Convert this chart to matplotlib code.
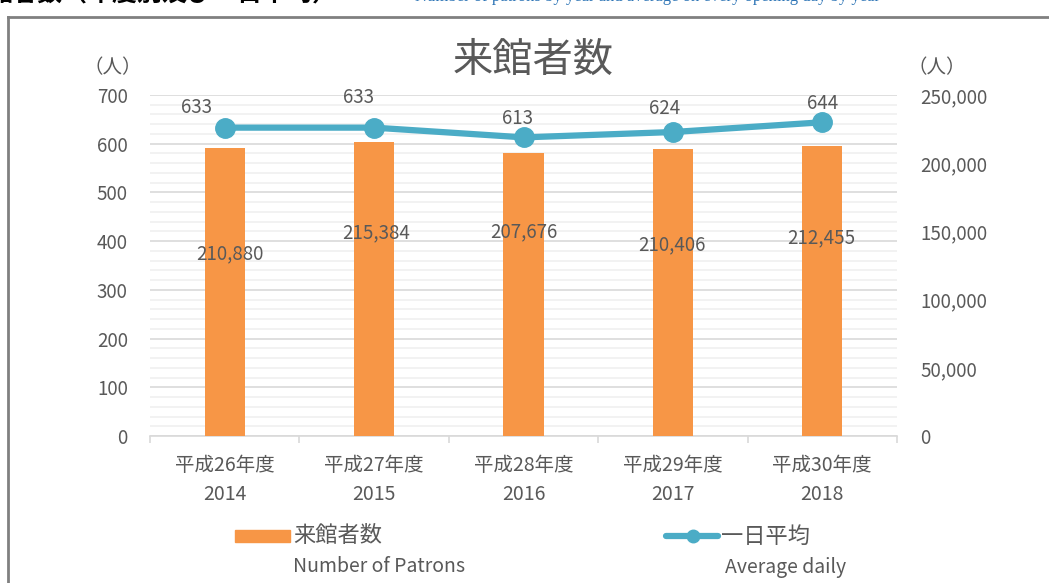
import matplotlib
matplotlib.use("Agg")
import matplotlib.pyplot as plt
from matplotlib.patches import Rectangle
from matplotlib.lines import Line2D
from matplotlib.ticker import MultipleLocator, FuncFormatter

plt.rcParams['font.family'] = ['Noto Sans CJK JP', 'DejaVu Sans']

# ---- data ----
categories = ["平成26年度\n2014", "平成27年度\n2015", "平成28年度\n2016",
              "平成29年度\n2017", "平成30年度\n2018"]
patrons = [210880, 215384, 207676, 210406, 212455]
daily_avg = [633, 633, 613, 624, 644]
title = "来館者数"
bar_label = "来館者数"
bar_label_en = "Number of Patrons"
line_label = "一日平均"
line_label_en = "Average daily"
unit = "（人）"

# label offsets in pixels (dx, dy) relative to the mark
line_lbl_off = [(-28, 20), (-16, 30), (-6, 19), (-8, 24), (0, 19)]
bar_lbl_off = [(5, -105), (2, -91), (0, -79), (-1, -96), (-1, -92)]

ORANGE = "#F79646"
TEAL = "#4BACC6"
GREY = "#595959"

W, H = 1049, 583
fig = plt.figure(figsize=(W / 100, H / 100), dpi=100)

def fx(px):
    return px / W

def fy(py):
    return 1 - py / H

rect = [fx(150), fy(436), fx(897) - fx(150), fy(95) - fy(436)]
x = list(range(len(categories)))

# background axes: left scale, gridlines, left tick labels, category labels
axg = fig.add_axes(rect, zorder=1)
axg.set_xlim(-0.5, len(categories) - 0.5)
axg.set_ylim(0, 700)
axg.yaxis.set_major_locator(MultipleLocator(100))
axg.yaxis.set_minor_locator(MultipleLocator(20))
axg.grid(which='major', axis='y', color='#D9D9D9', lw=1.2)
axg.grid(which='minor', axis='y', color='#F0F0F0', lw=1.2)
axg.set_axisbelow(True)
for s in ('top', 'left', 'right'):
    axg.spines[s].set_visible(False)
axg.spines['bottom'].set_color('#D9D9D9')
axg.spines['bottom'].set_linewidth(1.2)
axg.set_xticks(x)
axg.set_xticklabels(categories, fontsize=14, color=GREY, linespacing=1.45)
axg.set_xticks([i - 0.5 for i in range(len(categories) + 1)], minor=True)
axg.tick_params(axis='x', which='major', length=0, pad=14)
axg.tick_params(axis='x', which='minor', length=5, color='#D9D9D9', width=1.2)
axg.tick_params(axis='y', which='both', length=0, pad=16, labelsize=13.5, labelcolor=GREY)

# bar axes: right scale
axb = fig.add_axes(rect, zorder=2, sharex=axg)
axb.patch.set_visible(False)
axb.set_ylim(0, 250000)
axb.yaxis.tick_right()
axb.yaxis.set_major_locator(MultipleLocator(50000))
axb.yaxis.set_major_formatter(FuncFormatter(lambda v, p: f"{int(v):,}"))
axb.tick_params(axis='y', which='both', length=0, pad=17, labelsize=13.5, labelcolor=GREY)
axb.tick_params(axis='x', which='both', bottom=False, labelbottom=False)
for s in axb.spines.values():
    s.set_visible(False)
axb.bar(x, patrons, width=0.27, color=ORANGE)
for i, (v, off) in enumerate(zip(patrons, bar_lbl_off)):
    axb.annotate(f"{v:,}", xy=(i, v), xytext=off, textcoords='offset pixels',
                 ha='center', va='center', fontsize=13.5, color=GREY)

# line axes: left scale
axl = fig.add_axes(rect, zorder=3, sharex=axg)
axl.patch.set_visible(False)
axl.set_ylim(0, 700)
axl.axis('off')
axl.plot(x, daily_avg, color=TEAL, lw=4.5, marker='o', ms=14,
         solid_capstyle='round', clip_on=False)
for i, (v, off) in enumerate(zip(daily_avg, line_lbl_off)):
    axl.annotate(f"{v}", xy=(i, v), xytext=off, textcoords='offset pixels',
                 ha='center', va='center', fontsize=13.5, color=GREY)

# title and units
fig.text(fx(533), fy(60), title, ha='center', va='center', fontsize=29, color=GREY)
fig.text(fx(113), fy(68), unit, ha='center', va='center', fontsize=14, color=GREY)
fig.text(fx(937), fy(68), unit, ha='center', va='center', fontsize=14, color=GREY)

# legend (manual)
fig.patches.append(Rectangle((fx(235), fy(542)), fx(290) - fx(235), fy(530) - fy(542),
                             transform=fig.transFigure, color=ORANGE))
fig.lines.append(Line2D([fx(666), fx(718)], [fy(536), fy(536)], transform=fig.transFigure,
                        color=TEAL, lw=4.5, solid_capstyle='round'))
fig.lines.append(Line2D([fx(693)], [fy(536)], transform=fig.transFigure,
                        color=TEAL, marker='o', ms=9, lw=0))
fig.text(fx(293), fy(536), bar_label, ha='left', va='center', fontsize=16, color=GREY)
fig.text(fx(293), fy(567), bar_label_en, ha='left', va='center', fontsize=14, color=GREY)
fig.text(fx(721), fy(536), line_label, ha='left', va='center', fontsize=16, color=GREY)
fig.text(fx(725), fy(567), line_label_en, ha='left', va='center', fontsize=14, color=GREY)

# outer frame (partially visible)
fig.lines.append(Line2D([fx(8), fx(1049)], [fy(17), fy(17)], transform=fig.transFigure,
                        color='#808080', lw=2))
fig.lines.append(Line2D([fx(8), fx(8)], [fy(17), fy(583)], transform=fig.transFigure,
                        color='#808080', lw=2))

# cropped header text at the very top (as in the source image)
fig.text(fx(-12), fy(-6), "館者数（年度別及び一日平均）", ha='left', va='center',
         fontsize=18, fontweight='bold', color='black')
fig.text(fx(415), fy(-3), "Number of patrons by year and average on every opening day by year",
         ha='left', va='center', fontsize=12, color='#2E75B6', family='Liberation Serif')

fig.savefig("out.png", dpi=100)
